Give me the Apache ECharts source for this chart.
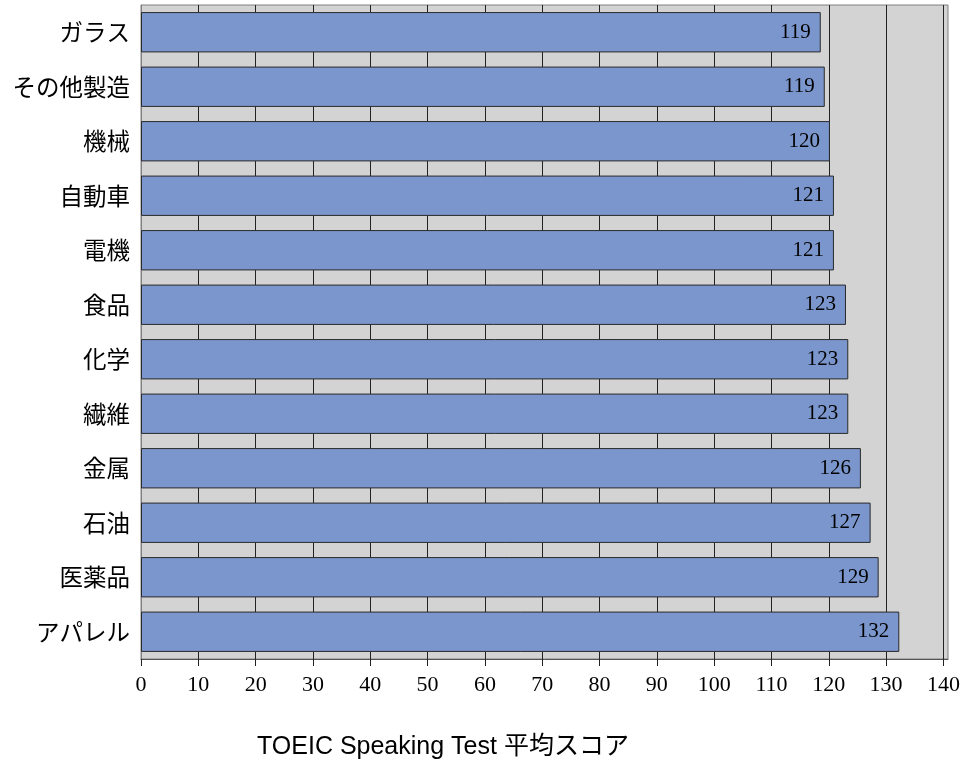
<!DOCTYPE html>
<html>
<head>
<meta charset="utf-8">
<script src="https://cdn.jsdelivr.net/npm/echarts@6/dist/echarts.min.js"></script>
<style>
  html, body { margin: 0; padding: 0; background: #fff; }
  #chart { width: 972px; height: 765px; }
</style>
</head>
<body>
<div id="chart"></div>
<script>
// Industries, listed top to bottom
const industries = ['ガラス', 'その他製造', '機械', '自動車', '電機', '食品', '化学', '繊維', '金属', '石油', '医薬品', 'アパレル'];
// Average TOEIC Speaking Test score per industry
const scores = [118.6, 119.3, 120.2, 120.9, 120.9, 123.0, 123.4, 123.4, 125.6, 127.3, 128.7, 132.3];
// Score axis tick values
const scoreTicks = [0, 10, 20, 30, 40, 50, 60, 70, 80, 90, 100, 110, 120, 130, 140];
const axisTitle = 'TOEIC Speaking Test 平均スコア';

const chart = echarts.init(document.getElementById('chart'), null, { renderer: 'canvas' });

chart.setOption({
  animation: false,
  backgroundColor: '#ffffff',
  title: {
    text: axisTitle,
    left: 252,
    top: 730,
    textStyle: {
      fontFamily: '"Liberation Sans", Arial, "Noto Sans CJK JP", sans-serif',
      fontSize: 25,
      fontWeight: 'normal',
      color: '#000'
    }
  },
  grid: {
    left: 141,
    right: 24,
    top: 5,
    bottom: 106,
    show: true,
    backgroundColor: '#d3d3d3',
    borderColor: '#808080',
    borderWidth: 1
  },
  xAxis: {
    type: 'value',
    min: 0,
    max: 140.8,
    interval: 10,
    axisLine: { show: true, lineStyle: { color: '#555', width: 1 } },
    axisTick: {
      show: true,
      length: 7,
      inside: false,
      customValues: scoreTicks,
      lineStyle: { color: '#222', width: 1 }
    },
    axisLabel: {
      customValues: scoreTicks,
      margin: 15,
      fontFamily: '"Liberation Serif", "Times New Roman", serif',
      fontSize: 22,
      color: '#000'
    },
    splitLine: { show: true, lineStyle: { color: '#222', width: 1 } }
  },
  yAxis: {
    type: 'category',
    inverse: true,
    data: industries,
    axisLine: { show: true, lineStyle: { color: '#808080' } },
    axisTick: { show: false },
    axisLabel: {
      margin: 11,
      fontFamily: '"Noto Sans CJK JP", sans-serif',
      fontSize: 23.5,
      color: '#000'
    }
  },
  series: [{
    type: 'bar',
    data: scores,
    barCategoryGap: '26%',
    itemStyle: {
      color: '#7b96cc',
      borderColor: '#2a2a2a',
      borderWidth: 1
    },
    label: {
      show: true,
      position: 'insideRight',
      distance: 10,
      formatter: p => Math.round(p.value),
      fontFamily: '"Liberation Serif", "Times New Roman", serif',
      fontSize: 21,
      color: '#000'
    }
  }]
});
</script>
</body>
</html>
